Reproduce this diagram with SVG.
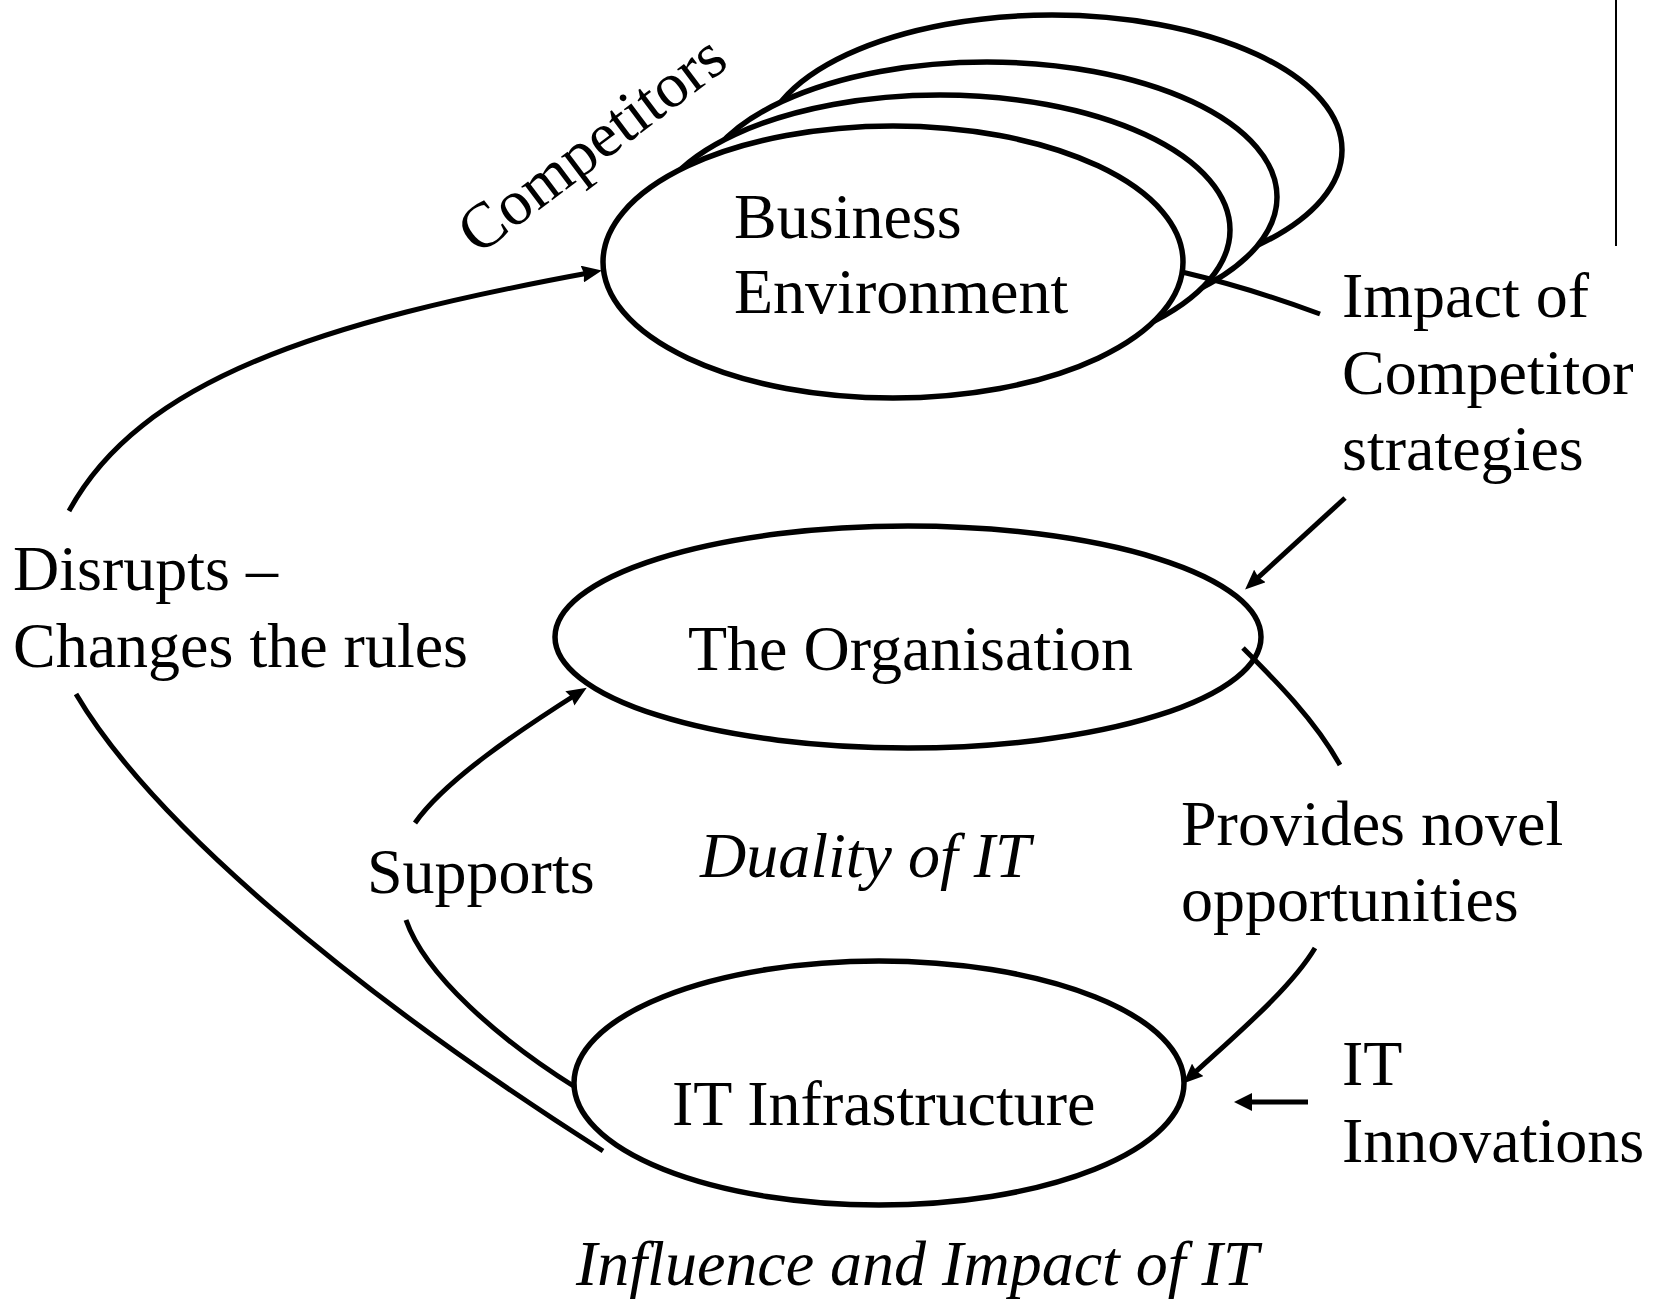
<svg xmlns="http://www.w3.org/2000/svg" width="1653" height="1305" viewBox="0 0 1653 1305">
  <style>
    .node { fill: #ffffff; stroke: #000000; stroke-width: 5.5; }
    .lbl { font-family: "Liberation Serif", "Times New Roman", serif; font-size: 64px; fill: #000000; }
    .it { font-style: italic; }
    .link { fill: none; stroke: #000000; stroke-width: 5; }
    .arr { marker-end: url(#head); }
  </style>
  <defs>
    <marker id="head" markerUnits="userSpaceOnUse" markerWidth="21" markerHeight="17" refX="12" refY="8.5" orient="auto">
      <path d="M0,0 L20,8.5 L0,17 L2,8.5 z" fill="#000000"/>
    </marker>
    <marker id="headSmall" markerUnits="userSpaceOnUse" markerWidth="20" markerHeight="18" refX="12" refY="9" orient="auto">
      <path d="M0,0 L18,9 L0,18 z" fill="#000000"/>
    </marker>
  </defs>
  <rect width="1653" height="1305" fill="#ffffff"/>

  <!-- page edge rule -->
  <line x1="1616" y1="0" x2="1616" y2="246" stroke="#000000" stroke-width="2"/>

  <!-- business environment with stacked competitor ellipses behind it -->
  <g id="business-environment">
    <ellipse class="node" cx="1052" cy="150" rx="290" ry="135"/>
    <ellipse class="node" cx="987" cy="197" rx="290" ry="135"/>
    <ellipse class="node" cx="940" cy="230" rx="290" ry="135"/>
    <ellipse class="node" cx="893" cy="262" rx="290" ry="136"/>
    <text class="lbl" x="734" y="238">Business</text>
    <text class="lbl" x="734" y="313">Environment</text>
  </g>
  <g id="competitors-label">
    <text class="lbl" transform="translate(478,256) rotate(-37)">Competitors</text>
  </g>

  <g id="organisation">
    <ellipse class="node" cx="908" cy="637" rx="353" ry="111"/>
    <text class="lbl" x="688" y="670">The Organisation</text>
  </g>

  <g id="it-infrastructure">
    <ellipse class="node" cx="879" cy="1083" rx="305" ry="122"/>
    <text class="lbl" x="672" y="1125">IT Infrastructure</text>
  </g>

  <g id="labels">
    <text class="lbl" x="1342" y="317">Impact of</text>
    <text class="lbl" x="1342" y="394">Competitor</text>
    <text class="lbl" x="1342" y="470">strategies</text>
    <text class="lbl" x="13" y="590">Disrupts –</text>
    <text class="lbl" x="13" y="667">Changes the rules</text>
    <text class="lbl" x="367" y="893">Supports</text>
    <text class="lbl it" x="700" y="877">Duality of IT</text>
    <text class="lbl" x="1181" y="845">Provides novel</text>
    <text class="lbl" x="1181" y="921">opportunities</text>
    <text class="lbl" x="1342" y="1085">IT</text>
    <text class="lbl" x="1342" y="1162">Innovations</text>
    <text class="lbl it" x="576" y="1285">Influence and Impact of IT</text>
  </g>

  <g id="connectors">
    <!-- disrupts: IT infrastructure to business environment -->
    <path class="link arr" d="M69,511 C140,380 320,322 594,272"/>
    <path class="link" d="M76,694 C150,820 350,990 603,1151"/>
    <!-- supports: IT infrastructure to organisation -->
    <path class="link arr" d="M415,823 C445,780 520,730 580,692"/>
    <path class="link" d="M406,920 C425,975 500,1040 575,1087"/>
    <!-- competitor strategies to organisation -->
    <path class="link" d="M1182,272 Q1250,288 1320,314"/>
    <path class="link arr" d="M1345,498 L1251,584"/>
    <!-- novel opportunities to IT infrastructure -->
    <path class="link" d="M1243,648 C1275,680 1315,720 1340,765"/>
    <path class="link arr" d="M1315,948 C1290,990 1230,1040 1189,1078"/>
    <!-- IT innovations -->
    <path class="link" stroke-width="6" marker-end="url(#headSmall)" d="M1308,1102 L1240,1102"/>
  </g>
</svg>
